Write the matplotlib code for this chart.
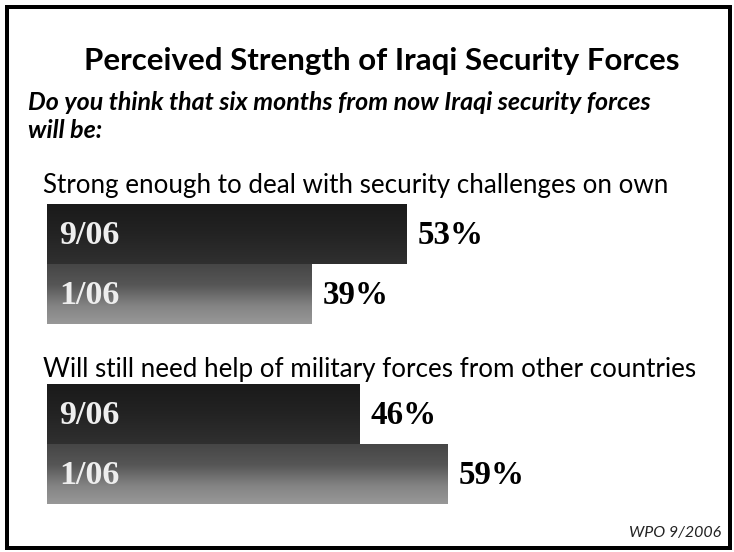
import numpy as np
import matplotlib
matplotlib.use("Agg")
import matplotlib.pyplot as plt
from matplotlib.patches import Rectangle
from matplotlib.colors import LinearSegmentedColormap

# ---- data ----
title = "Perceived Strength of Iraqi Security Forces"
question = "Do you think that six months from now Iraqi security forces\nwill be:"
categories = ["Strong enough to deal with security challenges on own",
              "Will still need help of military forces from other countries"]
periods = ["9/06", "1/06"]
values_9_06 = [53, 46]
values_1_06 = [39, 59]
source = "WPO 9/2006"

W, H = 734, 552
DPI = 100
fig = plt.figure(figsize=(W / DPI, H / DPI), dpi=DPI)
fig.patch.set_facecolor("white")

def px(p):
    return p * 72.0 / DPI

SANS = ["Lato", "DejaVu Sans"]
SERIF = ["Liberation Serif", "DejaVu Serif"]

# overlay axes in pixel coordinates for text / frame
ov = fig.add_axes([0, 0, 1, 1])
ov.set_xlim(0, W)
ov.set_ylim(H, 0)
ov.axis("off")
ov.add_patch(Rectangle((7, 7), 723, 541, fill=False, edgecolor="black", linewidth=px(4), zorder=5))

ov.text(382, 61, title, ha="center", va="center", fontsize=px(31.3), fontweight="bold",
        family=SANS, color="black")
ov.text(28, 103, question.split("\n")[0], ha="left", va="center", fontsize=px(25),
        fontweight="bold", style="italic", family=SANS, color="black")
ov.text(28, 130, question.split("\n")[1], ha="left", va="center", fontsize=px(25),
        fontweight="bold", style="italic", family=SANS, color="black")

cat_y = [186, 370]
for cy, c in zip(cat_y, categories):
    ov.text(43, cy, c, ha="left", va="center", fontsize=px(26), family=SANS, color="black")

ov.text(721, 533, source, ha="right", va="center", fontsize=px(16), style="italic",
        family=SANS, color="#222222")

# bar axes: x in percent
left_px, scale = 47, 6.79
ax = fig.add_axes([left_px / W, 0, (scale * 100) / W, 1])
ax.set_xlim(0, 100)
ax.set_ylim(H, 0)
ax.axis("off")
ax.patch.set_alpha(0)

bar_h = 60
group_top = [204, 384]
dark_cmap = LinearSegmentedColormap.from_list("dk", ["#1a1a1a", "#232323", "#303030"])
light_cmap = LinearSegmentedColormap.from_list(
    "lt", [(0, "#464646"), (0.35, "#565656"), (0.7, "#848484"), (1.0, "#989898")])

grad = np.linspace(0, 1, 256).reshape(-1, 1)
for g, top in enumerate(group_top):
    vals = [values_9_06[g], values_1_06[g]]
    for k, (v, per) in enumerate(zip(vals, periods)):
        yc = top + bar_h * k + bar_h / 2
        bars = ax.barh([yc], [v], height=bar_h, left=0, color="none", edgecolor="none")
        patch = bars.patches[0]
        cmap = dark_cmap if k == 0 else light_cmap
        im = ax.imshow(grad, cmap=cmap, aspect="auto", interpolation="bilinear",
                       extent=(0, v, yc + bar_h / 2, yc - bar_h / 2), origin="upper", zorder=2)
        im.set_clip_path(patch)
        ax.text(1.8, yc + 2, per, ha="left", va="center", fontsize=px(34), fontweight="bold",
                family=SERIF, color="#eeeeee", zorder=3)
        ax.text(v + 1.6, yc + 2, f"{v}%", ha="left", va="center", fontsize=px(33),
                fontweight="bold", family=SERIF, color="black", zorder=3)

ax.set_xlim(0, 100)
ax.set_ylim(H, 0)

fig.savefig("out.png", dpi=DPI, facecolor="white")
